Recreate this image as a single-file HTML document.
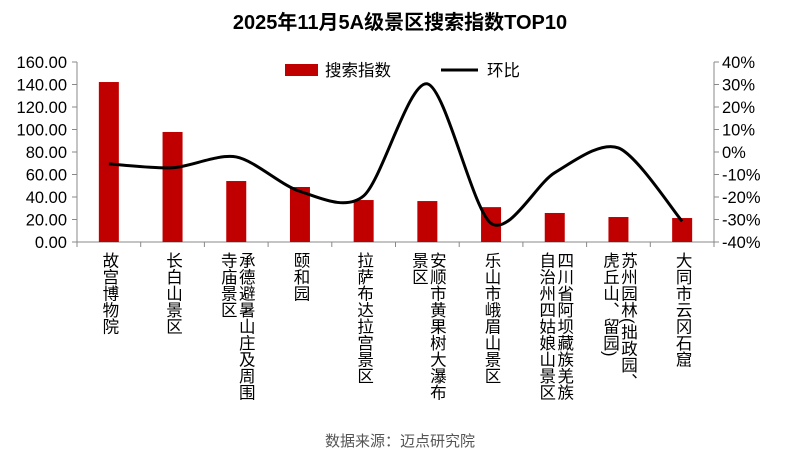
<!DOCTYPE html>
<html><head><meta charset="utf-8">
<style>
body{margin:0;background:#fff;}
#wrap{position:relative;width:800px;height:456px;overflow:hidden;font-family:"Liberation Sans","Noto Sans CJK SC",sans-serif;}
.xl{position:absolute;top:252px;writing-mode:vertical-rl;font-size:16.5px;line-height:18px;color:#000;transform:translateX(-50%);white-space:nowrap;}
</style></head><body>
<div id="wrap">
<svg id="svg" width="800" height="456" style="position:absolute;left:0;top:0"></svg>
<div style="position:absolute;left:0;width:800px;top:430px;text-align:center;font-size:15px;color:#555">数据来源：迈点研究院</div>
</div>
<script>
const categories=["故宫博物院","长白山景区","承德避暑山庄及周围<br>寺庙景区","颐和园","拉萨布达拉宫景区","安顺市黄果树大瀑布<br>景区","乐山市峨眉山景区","四川省阿坝藏族羌族<br>自治州四姑娘山景区","苏州园林(拙政园、<br>虎丘山、留园)","大同市云冈石窟"];
const searchIndex=[142.2,97.8,54.2,48.9,37.3,36.4,31.0,25.8,22.2,21.3];
const momChange=[-5.3,-7.0,-2.2,-17.5,-19.5,30.3,-31.7,-9.2,1.8,-30.8];
const leftTicks=[0,20,40,60,80,100,120,140,160];
const rightTicks=[-40,-30,-20,-10,0,10,20,30,40];
const NS="http://www.w3.org/2000/svg";
const svg=document.getElementById('svg');
const X0=77,X1=714,Y0=242,Y1=62;
const band=(X1-X0)/categories.length;
const xc=i=>X0+band*(i+0.5);
const yL=v=>Y0-(v/160)*(Y0-Y1);
const yR=v=>Y0-((v+40)/80)*(Y0-Y1);
function mk(t,a){const e=document.createElementNS(NS,t);for(const k in a)e.setAttribute(k,a[k]);svg.appendChild(e);return e;}
const title=mk('text',{x:400,y:29,'text-anchor':'middle','font-size':20,'font-weight':'bold',fill:'#000'});
title.textContent='2025年11月5A级景区搜索指数TOP10';


let a=mk('line',{x1:X0,y1:Y1,x2:X0,y2:Y0,stroke:'#888'});

a=mk('line',{x1:X1,y1:Y1,x2:X1,y2:Y0,stroke:'#888'});

a=mk('line',{x1:X0,y1:Y0,x2:X1,y2:Y0,stroke:'#888'});

leftTicks.forEach(v=>{const y=yL(v);mk('line',{x1:X0-5,y1:y,x2:X0,y2:y,stroke:'#888'});
const t=mk('text',{x:X0-10,y:y+6,'text-anchor':'end','font-size':16.5,fill:'#000'});t.textContent=v.toFixed(2);
});
rightTicks.forEach(v=>{const y=yR(v);mk('line',{x1:X1,y1:y,x2:X1+5,y2:y,stroke:'#888'});
const t=mk('text',{x:X1+8,y:y+6,'font-size':16.5,fill:'#000'});t.textContent=v+'%';
});
for(let i=0;i<=categories.length;i++){const x=X0+band*i;mk('line',{x1:x,y1:Y0,x2:x,y2:Y0+5,stroke:'#888'});}
searchIndex.forEach((v,i)=>{const b=mk('rect',{x:xc(i)-10,y:yL(v),width:20,height:Y0-yL(v),fill:'#c00000'});
});
const pts=momChange.map((v,i)=>[xc(i),yR(v)]);
let d='M'+pts[0][0]+','+pts[0][1];
const T=7;
for(let i=0;i<pts.length-1;i++){const p0=pts[i-1]||pts[i],p1=pts[i],p2=pts[i+1],p3=pts[i+2]||p2;
const c1=[p1[0]+(p2[0]-p0[0])/T,p1[1]+(p2[1]-p0[1])/T],c2=[p2[0]-(p3[0]-p1[0])/T,p2[1]-(p3[1]-p1[1])/T];
d+=' C'+c1+' '+c2+' '+p2;}
const ln=mk('path',{d:d,fill:'none',stroke:'#000','stroke-width':3});

let l=mk('rect',{x:285,y:64,width:33,height:12,fill:'#c00000'});

l=mk('text',{x:325,y:76,'font-size':16.5,fill:'#000'});l.textContent='搜索指数';

l=mk('line',{x1:441,y1:70,x2:478,y2:70,stroke:'#000','stroke-width':3});

l=mk('text',{x:487,y:76,'font-size':16.5,fill:'#000'});l.textContent='环比';

const wrap=document.getElementById('wrap');
categories.forEach((c,i)=>{const dv=document.createElement('div');dv.className='xl';dv.style.left=xc(i)+'px';dv.innerHTML=c;


wrap.appendChild(dv);});
</script>
</body></html>
